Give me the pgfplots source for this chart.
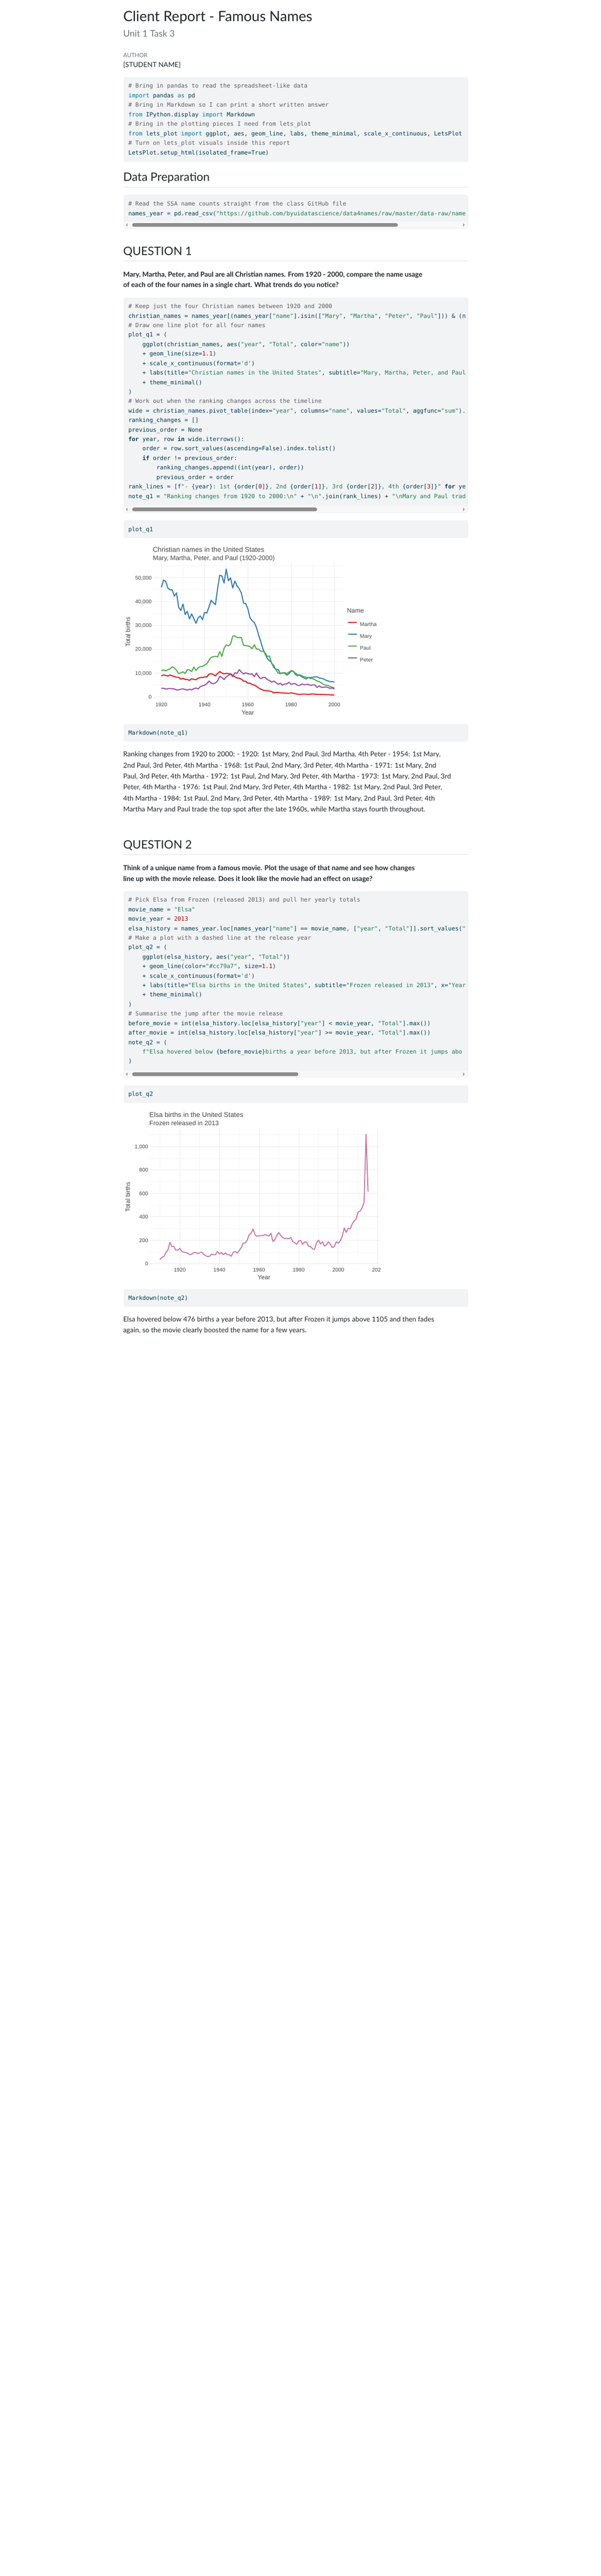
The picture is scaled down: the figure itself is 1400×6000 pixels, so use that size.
\documentclass[border=0pt]{standalone}
\usepackage{fontspec}
\setmainfont{Lato}
\setmonofont{DejaVu Sans Mono}
\newfontfamily\chartfont{Liberation Sans}
\usepackage{pgfplots}
\pgfplotsset{compat=1.18}
\definecolor{ctext}{HTML}{212529}
\definecolor{cgray}{HTML}{6C757D}
\definecolor{cbg}{HTML}{F1F3F5}
\definecolor{cbord}{HTML}{E6E9EC}
\definecolor{crule}{HTML}{DEE2E6}
\definecolor{cdef}{HTML}{003B4F}
\definecolor{ccom}{HTML}{5E5E5E}
\definecolor{cimp}{HTML}{00769E}
\definecolor{cstr}{HTML}{20794D}
\definecolor{cnum}{HTML}{AD0000}
\definecolor{ctrack}{HTML}{F8F8F8}
\definecolor{cthumb}{HTML}{8C8C8C}
\definecolor{carrow}{HTML}{A3A3A3}
\definecolor{ctxt}{HTML}{474747}
\definecolor{gmaj}{HTML}{EBEBEB}
\definecolor{gmin}{HTML}{F5F5F5}
\definecolor{cMartha}{HTML}{E41A1C}
\definecolor{cMary}{HTML}{377EB8}
\definecolor{cPaul}{HTML}{4DAF4A}
\definecolor{cPeter}{HTML}{984EA3}
\definecolor{cElsa}{HTML}{CC79A7}
\newcommand\codefnt{\ttfamily\fontsize{13.6}{16}\selectfont}
\newlength\chw
\newcommand\I{\hspace*{4\chw}}
\newcommand\II{\hspace*{8\chw}}
\newcommand\Cm[1]{\textcolor{ccom}{#1}}
\newcommand\Kw[1]{\textcolor{cimp}{#1}}
\newcommand\Kb[1]{\textbf{#1}}
\newcommand\St[1]{\textcolor{cstr}{#1}}
\newcommand\Nu[1]{\textcolor{cnum}{#1}}
\newcommand\CL[2]{\node[anchor=base west,inner sep=0pt,text=cdef,font=\codefnt] at (299,-#1) {#2};}
\newcommand\TX[4]{\node[anchor=base west,inner sep=0pt,text=#2,font=#3] at (287,-#1) {#4};}
\newcommand\BL[2]{\filldraw[fill=cbg,draw=cbord,rounded corners=4pt] (289,-#1) rectangle (1090,-#2);}
\newcommand\SB[3]{%
 \pgfmathsetmacro\ta{-#1}\pgfmathsetmacro\tb{-#2}\pgfmathsetmacro\tc{-(#1+#2)/2}%
 \pgfmathsetmacro\thA{\tc+4.25}\pgfmathsetmacro\thB{\tc-4.25}%
 \pgfmathsetmacro\aA{\tc+4}\pgfmathsetmacro\aB{\tc-4}%
 \fill[ctrack] (289.6,\ta) rectangle (1089.4,\tb);
 \fill[cthumb,rounded corners=4pt] (308,\thA) rectangle (#3,\thB);
 \fill[carrow] (293,\tc) -- (297,\aA) -- (297,\aB) -- cycle;
 \fill[carrow] (1083,\tc) -- (1079,\aA) -- (1079,\aB) -- cycle;}
\newcommand\body{\fontsize{16}{19}\selectfont}
\newcommand\qfont{\bfseries\fontsize{16}{19}\selectfont}
\newcommand\hfont{\fontsize{27}{32}\selectfont}
\pgfplotsset{
  rpt/.style={
    scale only axis, axis line style={draw=none},
    major tick length=0pt, minor tick length=0pt,
    grid=both, major grid style={color=gmaj,line width=1.1pt},
    minor grid style={color=gmin,line width=0.9pt},
    scaled y ticks=false, scaled x ticks=false,
    tick label style={font=\chartfont\fontsize{12.5}{14}\selectfont, text=ctxt, inner sep=0pt},
    xticklabel style={anchor=base, yshift=-12.7pt},
    label style={font=\chartfont\fontsize{14.5}{17}\selectfont, text=ctxt, inner sep=0pt},
  }
}
\begin{document}
\settowidth\chw{\codefnt x}%
\begin{tikzpicture}[x=1pt,y=1pt]
\fill[white] (0,0) rectangle (1400,-6000);
% ---------- header
\TX{50}{ctext}{\fontsize{33}{38}\selectfont}{Client Report - Famous Names}
\TX{86}{cgray}{\fontsize{21}{25}\selectfont}{Unit 1 Task 3}
\TX{134}{cgray}{\fontsize{13.5}{16}\selectfont}{AUTHOR}
\TX{157}{ctext}{\fontsize{16}{19}\selectfont}{[STUDENT NAME]}
% ---------- block 1
\BL{180}{377}
\CL{205}{\Cm{\# Bring in pandas to read the spreadsheet-like data}}
\CL{227.2}{\Kw{import} pandas \Kw{as} pd}
\CL{249.4}{\Cm{\# Bring in Markdown so I can print a short written answer}}
\CL{271.6}{\Kw{from} IPython.display \Kw{import} Markdown}
\CL{293.8}{\Cm{\# Bring in the plotting pieces I need from lets\_plot}}
\CL{316}{\Kw{from} lets\_plot \Kw{import} ggplot, aes, geom\_line, labs, theme\_minimal, scale\_x\_continuous, LetsPlot}
\CL{338.2}{\Cm{\# Turn on lets\_plot visuals inside this report}}
\CL{360.4}{LetsPlot.setup\_html(isolated\_frame=True)}
% ---------- data prep
\TX{422}{ctext}{\hfont}{Data Preparation}
\draw[crule,line width=1pt] (287,-436) -- (1091,-436);
\BL{454}{532}
\CL{479.5}{\Cm{\# Read the SSA name counts straight from the class GitHub file}}
\CL{501.7}{names\_year = pd.read\_csv(\St{"https://github.com/byuidatascience/data4names/raw/master/data-raw/name}}
\SB{516}{532}{927}
% ---------- question 1
\TX{594}{ctext}{\hfont}{QUESTION 1}
\draw[crule,line width=1pt] (287,-608) -- (1091,-608);
\TX{645}{ctext}{\qfont}{Mary, Martha, Peter, and Paul are all Christian names. From 1920 - 2000, compare the name usage}
\TX{669.3}{ctext}{\qfont}{of each of the four names in a single chart. What trends do you notice?}
\BL{694}{1194.5}
\CL{718.4}{\Cm{\# Keep just the four Christian names between 1920 and 2000}}
\CL{740.5}{christian\_names = names\_year[(names\_year[\St{"name"}].isin([\St{"Mary"}, \St{"Martha"}, \St{"Peter"}, \St{"Paul"}])) \& (n}
\CL{762.6}{\Cm{\# Draw one line plot for all four names}}
\CL{784.7}{plot\_q1 = (}
\CL{806.8}{\I ggplot(christian\_names, aes(\St{"year"}, \St{"Total"}, color=\St{"name"}))}
\CL{828.9}{\I + geom\_line(size=\Nu{1.1})}
\CL{851.0}{\I + scale\_x\_continuous(format=\St{'d'})}
\CL{873.1}{\I + labs(title=\St{"Christian names in the United States"}, subtitle=\St{"Mary, Martha, Peter, and Paul}}
\CL{895.2}{\I + theme\_minimal()}
\CL{917.3}{)}
\CL{939.4}{\Cm{\# Work out when the ranking changes across the timeline}}
\CL{961.5}{wide = christian\_names.pivot\_table(index=\St{"year"}, columns=\St{"name"}, values=\St{"Total"}, aggfunc=\St{"sum"}).}
\CL{983.6}{ranking\_changes = []}
\CL{1005.7}{previous\_order = None}
\CL{1027.8}{\Kb{for} year, row \Kb{in} wide.iterrows():}
\CL{1049.9}{\I order = row.sort\_values(ascending=False).index.tolist()}
\CL{1072.0}{\I \Kb{if} order != previous\_order:}
\CL{1094.1}{\II ranking\_changes.append((int(year), order))}
\CL{1116.2}{\II previous\_order = order}
\CL{1138.3}{rank\_lines = [f\St{"- }\{year\}\St{: 1st }\{order[\Nu{0}]\}\St{, 2nd }\{order[\Nu{1}]\}\St{, 3rd }\{order[\Nu{2}]\}\St{, 4th }\{order[\Nu{3}]\}\St{"} \Kb{for} ye}
\CL{1160.4}{note\_q1 = \St{"Ranking changes from 1920 to 2000:\textbackslash n"} + \St{"\textbackslash n"}.join(rank\_lines) + \St{"\textbackslash nMary and Paul trad}}
\SB{1178.5}{1194.5}{739}
\BL{1212.3}{1252.3}
\CL{1237.3}{plot\_q1}
% ---------- chart 1
\node[anchor=base west,inner sep=0pt,text=ctxt,font=\chartfont\fontsize{16}{19}\selectfont] at (356,-1286) {Christian names in the United States};
\node[anchor=base west,inner sep=0pt,text=ctxt,font=\chartfont\fontsize{15}{18}\selectfont] at (356,-1305) {Mary, Martha, Peter, and Paul (1920-2000)};
\node[anchor=base west,inner sep=0pt,text=ctxt,font=\chartfont\fontsize{14.8}{17}\selectfont] at (808.3,-1427.3) {Name};
\begin{axis}[rpt,
  at={(355.85pt,-1633.3pt)}, anchor=south west,
  width=443.35pt, height=322.5pt,
  xmin=1916, xmax=2004, ymin=-1866, ymax=56346,
  xtick={1920,1940,1960,1980,2000}, xticklabels={1920,1940,1960,1980,2000},
  minor xtick={1930,1950,1970,1990},
  ytick={0,10000,20000,30000,40000,50000},
  yticklabels={0,{10,000},{20,000},{30,000},{40,000},{50,000}},
  minor ytick={5000,15000,25000,35000,45000,55000},
  yticklabel style={anchor=base east, xshift=-2.4pt, yshift=-4.5pt},
  xlabel={Year}, ylabel={Total births},
  xlabel style={at={(axis description cs:0.5,0)}, anchor=base, yshift=-31.7pt},
  ylabel style={at={(axis description cs:-0.1305,0.5)}, anchor=center},
  legend cell align=left,
  legend style={at={(1.0232,0.5839)}, anchor=north west, draw=none, fill=none,
    inner sep=0pt, outer sep=0pt, row sep=14.3pt, column sep=6.3pt,
    font=\chartfont\fontsize{12.5}{14}\selectfont, text=ctxt,
    nodes={inner sep=0pt, text height=9pt, text depth=0pt}},
  legend image code/.code={\draw[#1] (0pt,4.5pt) -- (20.5pt,4.5pt); \path[draw=none,fill=none] (0pt,0pt) rectangle (20.5pt,9pt);},
]
\addplot[color=cMartha, line width=2.5pt, line join=round, no marks] coordinates {
(1920,8800)(1921,9200)(1922,9000)(1923,8700)(1924,9200)(1925,8800)(1926,8500)(1927,8200)(1928,8200)(1929,7400)
(1930,7800)(1931,7300)(1932,7300)(1933,6900)(1934,7600)(1935,7300)(1936,7200)(1937,7800)(1938,8100)(1939,8100)
(1940,8300)(1941,8300)(1942,9500)(1943,9700)(1944,9400)(1945,8800)(1946,9800)(1947,10600)(1948,10000)(1949,9600)
(1950,9900)(1951,9700)(1952,9700)(1953,9000)(1954,8400)(1955,7900)(1956,7800)(1957,7400)(1958,6600)(1959,6500)
(1960,5700)(1961,5700)(1962,5200)(1963,4900)(1964,4400)(1965,3700)(1966,3200)(1967,2800)(1968,2600)(1969,2500)
(1970,2400)(1971,2200)(1972,1700)(1973,1800)(1974,1800)(1975,1700)(1976,1600)(1977,1600)(1978,1500)(1979,1500)
(1980,1600)(1981,1500)(1982,1300)(1983,1100)(1984,1000)(1985,1100)(1986,1100)(1987,1100)(1988,1000)(1989,1100)
(1990,1200)(1991,1100)(1992,1000)(1993,1000)(1994,960)(1995,960)(1996,900)(1997,900)(1998,840)(1999,780)(2000,780)};
\addlegendentry{Martha}
\addplot[color=cMary, line width=2.5pt, line join=round, no marks] coordinates {
(1920,46000)(1921,49100)(1922,48500)(1923,45700)(1924,45000)(1925,45000)(1926,42300)(1927,43700)(1928,37600)(1929,36300)
(1930,39000)(1931,34600)(1932,35900)(1933,32700)(1934,34900)(1935,32900)(1936,30900)(1937,33200)(1938,34000)(1939,32400)
(1940,35500)(1941,35200)(1942,37700)(1943,40600)(1944,39600)(1945,38700)(1946,45500)(1947,51100)(1948,50800)(1949,47800)
(1950,53700)(1951,48800)(1952,50000)(1953,45700)(1954,48700)(1955,46600)(1956,45400)(1957,43600)(1958,39400)(1959,39200)
(1960,37000)(1961,33200)(1962,32000)(1963,31200)(1964,29100)(1965,25800)(1966,23100)(1967,20100)(1968,18000)(1969,16100)
(1970,15200)(1971,14300)(1972,12300)(1973,11600)(1974,11400)(1975,9900)(1976,9900)(1977,10000)(1978,9100)(1979,9700)
(1980,10800)(1981,10600)(1982,9900)(1983,9200)(1984,9000)(1985,8400)(1986,7900)(1987,7500)(1988,8100)(1989,8100)
(1990,8200)(1991,8400)(1992,8400)(1993,7900)(1994,7800)(1995,7500)(1996,7000)(1997,6700)(1998,6400)(1999,6400)(2000,6200)};
\addlegendentry{Mary}
\addplot[color=cPaul, line width=2.5pt, line join=round, no marks] coordinates {
(1920,11000)(1921,11300)(1922,10900)(1923,11400)(1924,11700)(1925,12600)(1926,12200)(1927,11100)(1928,9700)(1929,10100)
(1930,10500)(1931,9800)(1932,11400)(1933,11300)(1934,10600)(1935,12500)(1936,11100)(1937,12200)(1938,12700)(1939,12700)
(1940,13400)(1941,13800)(1942,15300)(1943,16600)(1944,16800)(1945,17000)(1946,16800)(1947,19000)(1948,17000)(1949,20400)
(1950,21800)(1951,21400)(1952,22200)(1953,25500)(1954,25600)(1955,24900)(1956,24900)(1957,24900)(1958,21700)(1959,21500)
(1960,21400)(1961,21100)(1962,20200)(1963,21900)(1964,20000)(1965,20100)(1966,19100)(1967,19200)(1968,18500)(1969,16900)
(1970,17200)(1971,14000)(1972,13200)(1973,11300)(1974,10000)(1975,9700)(1976,10100)(1977,10200)(1978,9800)(1979,10300)
(1980,11000)(1981,10800)(1982,9300)(1983,8800)(1984,9300)(1985,8800)(1986,8500)(1987,8200)(1988,8200)(1989,7600)
(1990,7600)(1991,7200)(1992,6600)(1993,6400)(1994,5800)(1995,5200)(1996,4900)(1997,4800)(1998,4400)(1999,4000)(2000,3800)};
\addlegendentry{Paul}
\addplot[color=cPeter, line width=2.5pt, line join=round, no marks] coordinates {
(1920,3600)(1921,3600)(1922,3200)(1923,3400)(1924,3500)(1925,3400)(1926,3300)(1927,2900)(1928,2900)(1929,3200)
(1930,3300)(1931,3100)(1932,2800)(1933,3200)(1934,2900)(1935,3400)(1936,3700)(1937,3300)(1938,4300)(1939,4600)
(1940,4900)(1941,5500)(1942,6600)(1943,5800)(1944,5500)(1945,5800)(1946,6700)(1947,8600)(1948,8100)(1949,7200)
(1950,8400)(1951,9000)(1952,9500)(1953,8500)(1954,10100)(1955,9800)(1956,11400)(1957,10400)(1958,9600)(1959,10100)
(1960,9700)(1961,9500)(1962,9600)(1963,8500)(1964,10000)(1965,8400)(1966,7600)(1967,8100)(1968,8100)(1969,7200)
(1970,6900)(1971,6100)(1972,6600)(1973,6000)(1974,5200)(1975,5700)(1976,4900)(1977,5400)(1978,5400)(1979,6100)
(1980,5200)(1981,5500)(1982,5500)(1983,4800)(1984,4800)(1985,5400)(1986,5100)(1987,5200)(1988,5200)(1989,4800)
(1990,5000)(1991,5000)(1992,3900)(1993,4600)(1994,4000)(1995,4000)(1996,4200)(1997,3900)(1998,3600)(1999,3700)(2000,3300)};
\addlegendentry{Peter}
\end{axis}
% ---------- note q1
\BL{1687.3}{1726.7}
\CL{1712.3}{Markdown(note\_q1)}
\TX{1762.7}{ctext}{\body}{Ranking changes from 1920 to 2000: - 1920: 1st Mary, 2nd Paul, 3rd Martha, 4th Peter - 1954: 1st Mary,}
\TX{1788.3}{ctext}{\body}{2nd Paul, 3rd Peter, 4th Martha - 1968: 1st Paul, 2nd Mary, 3rd Peter, 4th Martha - 1971: 1st Mary, 2nd}
\TX{1814}{ctext}{\body}{Paul, 3rd Peter, 4th Martha - 1972: 1st Paul, 2nd Mary, 3rd Peter, 4th Martha - 1973: 1st Mary, 2nd Paul, 3rd}
\TX{1839.3}{ctext}{\body}{Peter, 4th Martha - 1976: 1st Paul, 2nd Mary, 3rd Peter, 4th Martha - 1982: 1st Mary, 2nd Paul, 3rd Peter,}
\TX{1865}{ctext}{\body}{4th Martha - 1984: 1st Paul, 2nd Mary, 3rd Peter, 4th Martha - 1989: 1st Mary, 2nd Paul, 3rd Peter, 4th}
\TX{1890.7}{ctext}{\body}{Martha Mary and Paul trade the top spot after the late 1960s, while Martha stays fourth throughout.}
% ---------- question 2
\TX{1977.3}{ctext}{\hfont}{QUESTION 2}
\draw[crule,line width=1pt] (287,-1990) -- (1091,-1990);
\TX{2027.3}{ctext}{\qfont}{Think of a unique name from a famous movie. Plot the usage of that name and see how changes}
\TX{2053}{ctext}{\qfont}{line up with the movie release. Does it look like the movie had an effect on usage?}
\BL{2076.5}{2510}
\CL{2100.9}{\Cm{\# Pick Elsa from Frozen (released 2013) and pull her yearly totals}}
\CL{2123.0}{movie\_name = \St{"Elsa"}}
\CL{2145.1}{movie\_year = \Nu{2013}}
\CL{2167.2}{elsa\_history = names\_year.loc[names\_year[\St{"name"}] == movie\_name, [\St{"year"}, \St{"Total"}]].sort\_values(\St{"}}
\CL{2189.3}{\Cm{\# Make a plot with a dashed line at the release year}}
\CL{2211.4}{plot\_q2 = (}
\CL{2233.5}{\I ggplot(elsa\_history, aes(\St{"year"}, \St{"Total"}))}
\CL{2255.6}{\I + geom\_line(color=\St{"\#cc79a7"}, size=\Nu{1.1})}
\CL{2277.7}{\I + scale\_x\_continuous(format=\St{'d'})}
\CL{2299.8}{\I + labs(title=\St{"Elsa births in the United States"}, subtitle=\St{"Frozen released in 2013"}, x=\St{"Year}}
\CL{2321.9}{\I + theme\_minimal()}
\CL{2344.0}{)}
\CL{2366.1}{\Cm{\# Summarise the jump after the movie release}}
\CL{2388.2}{before\_movie = int(elsa\_history.loc[elsa\_history[\St{"year"}] < movie\_year, \St{"Total"}].max())}
\CL{2410.3}{after\_movie = int(elsa\_history.loc[elsa\_history[\St{"year"}] >= movie\_year, \St{"Total"}].max())}
\CL{2432.4}{note\_q2 = (}
\CL{2454.5}{\I \St{f"Elsa hovered below }\{before\_movie\}\St{ births a year before 2013, but after Frozen it jumps abo}}
\CL{2476.6}{)}
\SB{2494}{2510}{695}
\BL{2528.3}{2568.3}
\CL{2553.3}{plot\_q2}
% ---------- chart 2
\node[anchor=base west,inner sep=0pt,text=ctxt,font=\chartfont\fontsize{16}{19}\selectfont] at (348,-2602.7) {Elsa births in the United States};
\node[anchor=base west,inner sep=0pt,text=ctxt,font=\chartfont\fontsize{15}{18}\selectfont] at (348,-2621.7) {Frozen released in 2013};
\begin{axis}[rpt,
  at={(348.5pt,-2948.9pt)}, anchor=south west,
  width=533.3pt, height=321.3pt,
  xmin=1904.75, xmax=2020.25, ymin=-20.5, ymax=1156.5,
  xtick={1920,1940,1960,1980,2000,2020}, xticklabels={1920,1940,1960,1980,2000,202\phantom{0}},
  minor xtick={1910,1930,1950,1970,1990,2010},
  ytick={0,200,400,600,800,1000},
  yticklabels={0,200,400,600,800,{1,000}},
  minor ytick={100,300,500,700,900,1100},
  yticklabel style={anchor=base east, xshift=-3pt, yshift=-4.5pt},
  xlabel={Year}, ylabel={Total births},
  xlabel style={at={(axis description cs:0.5,0)}, anchor=base, yshift=-31.1pt},
  ylabel style={at={(axis description cs:-0.0954,0.5)}, anchor=center},
]
\addplot[color=cElsa, line width=2.4pt, line join=round, no marks] coordinates {
(1910,33)(1911,55)(1912,61)(1913,95)(1914,116)(1915,183)(1916,147)(1917,147)(1918,116)(1919,116)
(1920,131)(1921,106)(1922,98)(1923,95)(1924,89)(1925,77)(1926,81)(1927,95)(1928,95)(1929,85)
(1930,92)(1931,99)(1932,79)(1933,70)(1934,60)(1935,63)(1936,81)(1937,77)(1938,77)(1939,104)
(1940,83)(1941,95)(1942,77)(1943,92)(1944,77)(1945,77)(1946,63)(1947,98)(1948,103)(1949,90)
(1950,112)(1951,137)(1952,175)(1953,177)(1954,200)(1955,247)(1956,260)(1957,295)(1958,244)(1959,234)
(1960,238)(1961,239)(1962,240)(1963,248)(1964,242)(1965,236)(1966,260)(1967,189)(1968,205)(1969,244)
(1970,266)(1971,238)(1972,223)(1973,214)(1974,217)(1975,212)(1976,223)(1977,189)(1978,179)(1979,165)
(1980,193)(1981,199)(1982,165)(1983,186)(1984,181)(1985,149)(1986,147)(1987,126)(1988,122)(1989,177)
(1990,201)(1991,168)(1992,187)(1993,150)(1994,161)(1995,187)(1996,165)(1997,137)(1998,147)(1999,187)
(2000,175)(2001,195)(2002,234)(2003,305)(2004,266)(2005,302)(2006,297)(2007,339)(2008,364)(2009,381)
(2010,440)(2011,449)(2012,476)(2013,523)(2014,1105)(2015,614)};
\end{axis}
% ---------- note q2
\BL{3003.3}{3042.7}
\CL{3028.3}{Markdown(note\_q2)}
\TX{3079}{ctext}{\body}{Elsa hovered below 476 births a year before 2013, but after Frozen it jumps above 1105 and then fades}
\TX{3104.3}{ctext}{\body}{again, so the movie clearly boosted the name for a few years.}
\end{tikzpicture}
\end{document}
